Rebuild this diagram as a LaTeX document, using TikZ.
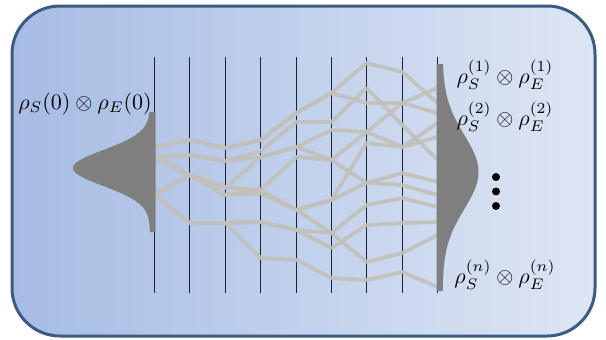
\documentclass[tikz,border=0pt]{standalone}
\usepackage{amsmath}
\definecolor{bgL}{HTML}{A6BCE4}
\definecolor{bgR}{HTML}{DEE6F4}
\definecolor{bordercol}{HTML}{3B5B82}
\definecolor{trajcol}{HTML}{C2C0BA}
\definecolor{distcol}{HTML}{7F7F7F}
\definecolor{linecol}{HTML}{1B2238}
\begin{document}
\begin{tikzpicture}[x=1pt,y=-1pt,
  vline/.style={line width=1.9pt, draw=linecol},
  traj/.style={line width=3.8pt, draw=trajcol, line join=round, opacity=0.9},
  lbl/.style={inner sep=0pt, scale=2.2},
  dot/.style={circle, fill=black, inner sep=0pt, minimum size=8pt},
]
\useasboundingbox (0,0) rectangle (606,340);
\fill[white] (0,0) rectangle (606,340);
\shade[left color=bgL, right color=bgR, rounded corners=48pt] (12,6) rectangle (595,336);
\draw[bordercol, line width=3pt, rounded corners=48pt] (12,6) rectangle (595,336);

% vertical lines
\foreach \xx in {154.5,189.5,225.5,260.5,296.5,331.5,366.5,402.5,437.5}
  \draw[vline] (\xx,57) -- (\xx,293);

% trajectories (y at each vertical line)
\foreach \a/\b/\c/\d/\e/\f/\g/\h/\i in {
  147/140/148/140/113/93/63/72/103,
  147/140/148/140/113/93/103/103/113,
  157/155/161/151/122/122/88/125/160,
  157/155/161/157/147/130/132/147/123,
  157/175/188/157/147/160/132/103/88,
  157/175/195/190/210/200/143/147/137,
  195/175/187/190/157/160/183/185/195,
  195/175/195/193/210/233/205/198/207,
  195/223/223/222/230/248/225/223/222,
  195/223/223/222/230/233/262/253/235,
  195/223/223/258/260/278/280/272/287,
  157/175/187/193/210/200/183/173/182}
  \draw[traj] (155,\a) -- (189.5,\b) -- (225.5,\c) -- (260.5,\d) -- (296.5,\e)
     -- (331.5,\f) -- (366.5,\g) -- (402.5,\h) -- (437.5,\i);

% distributions
\fill[distcol] (155.5,112) -- plot[domain=112:232, samples=121]
  ({150-77*exp(-((\x-168)/18)*((\x-168)/18)/2)},\x) -- (155.5,232) -- cycle;
\fill[distcol] (436.5,64) -- plot[domain=64:291, samples=121]
  ({442.5+36*exp(-((\x-172)/37)*((\x-172)/37)/2)},\x) -- (436.5,291) -- cycle;

% labels
\node[lbl] (init) at (85,104) {$\rho_S(0)\otimes\rho_E(0)$};
\node[lbl] (out1) at (505,75) {$\rho_S^{(1)}\otimes\rho_E^{(1)}$};
\node[lbl] (out2) at (505,117) {$\rho_S^{(2)}\otimes\rho_E^{(2)}$};
\node[lbl] (outn) at (505,275) {$\rho_S^{(n)}\otimes\rho_E^{(n)}$};

% dots
\node[dot] (d1) at (496,177) {};
\node[dot] (d2) at (496,191.5) {};
\node[dot] (d3) at (496,206) {};
\end{tikzpicture}
\end{document}
